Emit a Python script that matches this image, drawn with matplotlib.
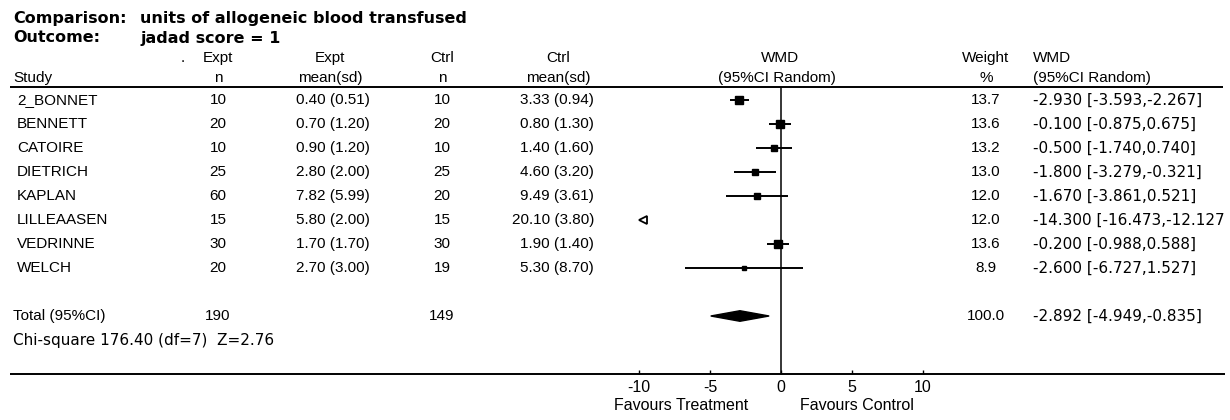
import matplotlib
matplotlib.use("Agg")
import matplotlib.pyplot as plt
from matplotlib.patches import Polygon

# ---- data -------------------------------------------------------------
studies = ["2_BONNET", "BENNETT", "CATOIRE", "DIETRICH", "KAPLAN",
           "LILLEAASEN", "VEDRINNE", "WELCH"]
expt_n = [10, 20, 10, 25, 60, 15, 30, 20]
expt_mean = [0.40, 0.70, 0.90, 2.80, 7.82, 5.80, 1.70, 2.70]
expt_sd = [0.51, 1.20, 1.20, 2.00, 5.99, 2.00, 1.70, 3.00]
ctrl_n = [10, 20, 10, 25, 20, 15, 30, 19]
ctrl_mean = [3.33, 0.80, 1.40, 4.60, 9.49, 20.10, 1.90, 5.30]
ctrl_sd = [0.94, 1.30, 1.60, 3.20, 3.61, 3.80, 1.40, 8.70]
weights = [13.7, 13.6, 13.2, 13.0, 12.0, 12.0, 13.6, 8.9]
wmd = [-2.930, -0.100, -0.500, -1.800, -1.670, -14.300, -0.200, -2.600]
ci_low = [-3.593, -0.875, -1.740, -3.279, -3.861, -16.473, -0.988, -6.727]
ci_high = [-2.267, 0.675, 0.740, -0.321, 0.521, -12.127, 0.588, 1.527]

total_weight = 100.0
total_wmd = -2.892
total_low = -4.949
total_high = -0.835
chi_square = 176.40
chi_df = 7
z_value = 2.76

axis_ticks = [-10, -5, 0, 5, 10]

# ---- layout -----------------------------------------------------------
W, H = 1230, 420
fig = plt.figure(figsize=(W / 100, H / 100), dpi=100)
FONT = "Liberation Sans"
WIDE = "DejaVu Sans"
FS = 11
TFS = 11.5

# table axes: x in pixels, y in row units (row i of study i at y=i)
def row_of(py):
    return (py - 100) / 24.0

tab = fig.add_axes([0, 0, 1, 1])
tab.set_xlim(0, W)
tab.set_ylim(row_of(H), row_of(0))
tab.axis("off")

def txt(x, y, s, ha="left", bold=False, size=FS, family=FONT, ax=None):
    ax = tab if ax is None else ax
    return ax.text(x, y, s, ha=ha, va="center", fontsize=size,
                   fontweight="bold" if bold else "normal", family=family)

# titles
txt(13, row_of(19), "Comparison:", bold=True, size=TFS, family=WIDE)
txt(140, row_of(19), "units of allogeneic blood transfused", bold=True,
    size=TFS, family=WIDE)
txt(13, row_of(38), "Outcome:", bold=True, size=TFS, family=WIDE)
txt(140, row_of(38), "jadad score = 1", bold=True, size=TFS, family=WIDE)

# column headers
h1, h2 = row_of(58), row_of(78)
txt(183, h1, ".", ha="center")
txt(218, h1, "Expt", ha="center")
txt(330, h1, "Expt", ha="center")
txt(442, h1, "Ctrl", ha="center")
txt(558, h1, "Ctrl", ha="center")
txt(780, h1, "WMD", ha="center")
txt(986, h1, "Weight", ha="center")
txt(1033, h1, "WMD")
txt(13, h2, "Study")
txt(218, h2, "n", ha="center")
txt(330, h2, "mean(sd)", ha="center")
txt(442, h2, "n", ha="center")
txt(558, h2, "mean(sd)", ha="center")
txt(777, h2, "(95%CI Random)", ha="center")
txt(986, h2, "%", ha="center")
txt(1033, h2, "(95%CI Random)")

# rules
tab.hlines(row_of(87), 10, 1223, color="black", lw=1.4)
tab.hlines(row_of(374), 10, 1225, color="black", lw=1.4)

# right-hand WMD column: its own axes so long entries are cut at the page edge
col_l, col_r = 1025, 1224
col = fig.add_axes([col_l / W, 0, (col_r - col_l) / W, 1])
col.set_xlim(col_l, col_r)
col.set_ylim(row_of(H), row_of(0))
col.axis("off")

# study rows
for i, name in enumerate(studies):
    txt(17, i, name)
    txt(218, i, f"{expt_n[i]}", ha="center")
    txt(370, i, f"{expt_mean[i]:.2f} ({expt_sd[i]:.2f})", ha="right")
    txt(442, i, f"{ctrl_n[i]}", ha="center")
    txt(594, i, f"{ctrl_mean[i]:.2f} ({ctrl_sd[i]:.2f})", ha="right")
    txt(986, i, f"{weights[i]:.1f}", ha="center")
    t = txt(1033, i, f"{wmd[i]:.3f} [{ci_low[i]:.3f},{ci_high[i]:.3f}]",
            family=WIDE, ax=col)
    t.set_clip_on(True)

# total rows
ty = row_of(316)
txt(13, ty, "Total (95%CI)")
txt(218, ty, f"{sum(expt_n)}", ha="center")
txt(442, ty, f"{sum(ctrl_n)}", ha="center")
txt(986, ty, f"{total_weight:.1f}", ha="center")
txt(1033, ty, f"{total_wmd:.3f} [{total_low:.3f},{total_high:.3f}]",
    family=WIDE)
txt(13, row_of(340),
    f"Chi-square {chi_square:.2f} (df={chi_df})  Z={z_value:.2f}", family=WIDE)

# ---- forest plot axes ---------------------------------------------------
x0, x1 = 639, 923
y_top, y_bot = 87, 374
fa = fig.add_axes([x0 / W, 1 - y_bot / H, (x1 - x0) / W, (y_bot - y_top) / H])
fa.set_xlim(-10, 10)
fa.set_ylim(row_of(y_bot), row_of(y_top))
fa.patch.set_alpha(0)
for side in ("top", "right", "left", "bottom"):
    fa.spines[side].set_visible(False)
fa.set_yticks([])
fa.set_xticks(axis_ticks)
fa.set_xticklabels([str(v) for v in axis_ticks], family=FONT, fontsize=FS + 0.5)
fa.tick_params(axis="x", direction="in", length=3, width=1, pad=4)

fa.axvline(0, color="black", lw=1.1)

xmin, xmax = fa.get_xlim()
for i in range(len(studies)):
    if ci_high[i] < xmin:
        fa.plot([xmin + 0.3], [i], marker="<", ms=6, mfc="white",
                mec="black", mew=1.3, clip_on=False)
        continue
    fa.plot([max(ci_low[i], xmin), min(ci_high[i], xmax)], [i, i],
            color="black", lw=1.4, solid_capstyle="butt")
    fa.plot([wmd[i]], [i], marker="s", ms=0.38 * weights[i], color="black")

dh = 0.22
diamond = Polygon([(total_low, ty), (total_wmd, ty - dh),
                   (total_high, ty), (total_wmd, ty + dh)],
                  closed=True, facecolor="black", edgecolor="black", lw=1)
fa.add_patch(diamond)

# favour labels under the axis
txt(681, row_of(406), "Favours Treatment", ha="center", size=FS + 0.5)
txt(857, row_of(406), "Favours Control", ha="center", size=FS + 0.5)

fig.savefig("out.png", dpi=100, facecolor="white")
